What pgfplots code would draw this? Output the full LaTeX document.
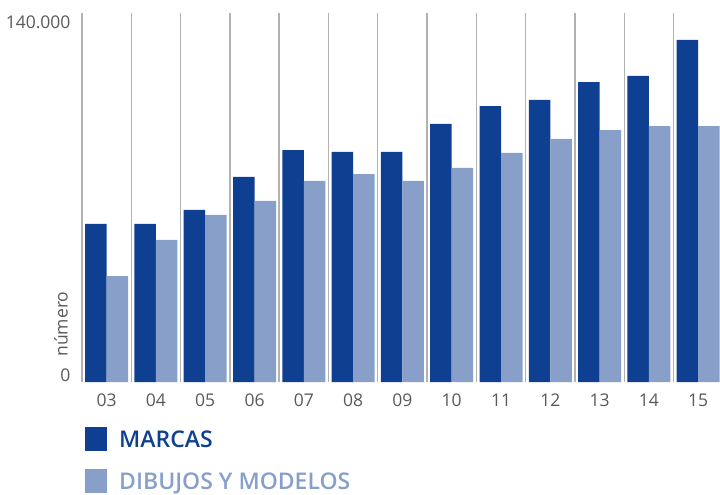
\documentclass[border=0pt]{standalone}
\usepackage{fontspec}
\setmainfont{Open Sans}
\IfFontExistsTF{Open Sans Semibold}{\newfontfamily\osemi{Open Sans Semibold}}{%
 \IfFontExistsTF{Open Sans SemiBold}{\newfontfamily\osemi{Open Sans SemiBold}}{\newcommand\osemi{\bfseries}}}
\usepackage{pgfplots}
\pgfplotsset{compat=1.18}
\definecolor{dblue}{HTML}{0F3F91}
\definecolor{lblue}{HTML}{88A0C9}
\definecolor{tgray}{HTML}{595959}
\pgfplotsset{sq/.style={legend image code/.code={\fill[##1] (0pt,-11pt) rectangle (22pt,13pt);}}}
\begin{document}
\begin{tikzpicture}
\begin{axis}[
  scale only axis, width=638pt, height=369pt,
  xmin=-0.5, xmax=12.442, ymin=0, ymax=140000,
  scaled y ticks=false,
  ybar=0pt, bar width=21.5pt,
  axis line style={draw=none},
  major tick length=0pt, minor tick length=0pt,
  xtick={0,...,12},
  xticklabels={03,04,05,06,07,08,09,10,11,12,13,14,15},
  minor xtick={-0.5,0.5,...,11.5},
  xminorgrids, minor grid style={color=black!30, line width=1.4pt},
  ytick={0}, yticklabels={0},
  extra y ticks={140000}, extra y tick labels={140.000},
  extra y tick style={grid=none, yticklabel style={anchor=north east, yshift=4pt}},
  yticklabel style={anchor=south east, xshift=-8pt, yshift=-3pt},
  ticklabel style={font=\fontsize{17.5}{20}\selectfont, color=tgray},
  xticklabel style={yshift=-8pt},
  ylabel={número},
  every axis y label/.style={at={(rel axis cs:0,0.157)}, xshift=-21pt, rotate=90, anchor=center, font=\fontsize{17.5}{20}\selectfont, color=tgray},
  legend style={at={(rel axis cs:0,0)}, anchor=north west, xshift=3pt, yshift=-45pt, draw=none, fill=none, row sep=18pt, column sep=10pt, inner sep=0pt, font=\fontsize{23}{23}\selectfont\osemi},
  legend cell align=left,
]
\addplot[fill=dblue, draw=none, sq] coordinates {
 (0,60000) (1,60000) (2,65300) (3,77800) (4,88000) (5,87300) (6,87300)
 (7,97900) (8,104700) (9,107000) (10,113800) (11,116100) (12,129800)};
\addlegendentry{\textcolor{dblue}{MARCAS}}
\addplot[fill=lblue, draw=none, sq] coordinates {
 (0,40200) (1,53900) (2,63400) (3,68700) (4,76300) (5,78900) (6,76300)
 (7,81200) (8,86900) (9,92200) (10,95600) (11,97100) (12,97100)};
\addlegendentry{\textcolor{lblue}{DIBUJOS Y MODELOS}}
\end{axis}
\pgfresetboundingbox
\path[use as bounding box] ([xshift=-82pt,yshift=-113pt]current axis.south west) rectangle ([yshift=13pt]current axis.north east);
\end{tikzpicture}
\end{document}
